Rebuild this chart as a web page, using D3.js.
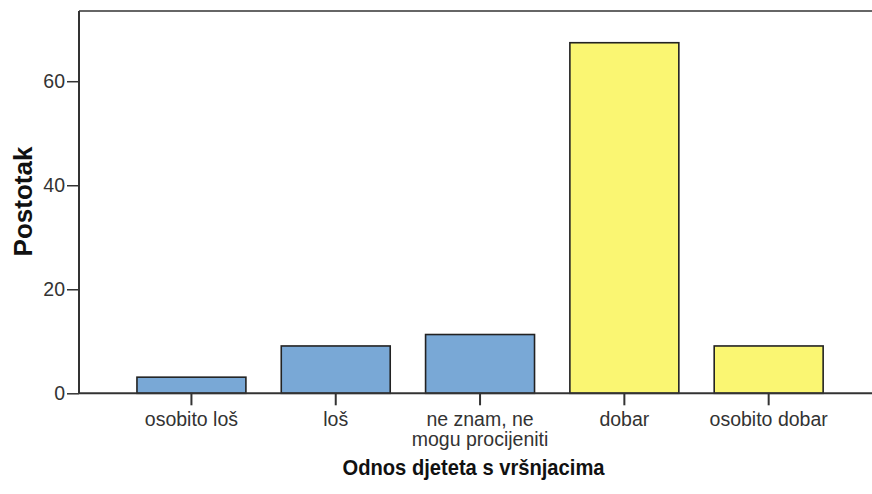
<!DOCTYPE html>
<html>
<head>
<meta charset="utf-8">
<script src="https://cdn.jsdelivr.net/npm/d3@7"></script>
<style>
  body { margin: 0; background: #fff; }
  svg { display: block; font-family: "Liberation Sans", Arial, sans-serif; }
</style>
</head>
<body>
<div id="chart"></div>
<script>
// values (percent)
const categories = ["osobito loš", "loš", "ne znam, ne mogu procijeniti", "dobar", "osobito dobar"];
const labelLines = [["osobito loš"], ["loš"], ["ne znam, ne", "mogu procijeniti"], ["dobar"], ["osobito dobar"]];
const values = [3.1, 9.1, 11.3, 67.4, 9.1];
const colorGroup = ["neg", "neg", "neg", "pos", "pos"];
const yTicks = [0, 20, 40, 60];

const width = 872, height = 494;
const plotLeft = 79, plotTop = 11, plotBottom = 393.3, plotRight = 872;
const fontFam = "Liberation Sans, Arial, sans-serif";

const svg = d3.select("#chart").append("svg")
    .attr("width", width)
    .attr("height", height);

const x = d3.scaleBand()
    .domain(categories)
    .range([101.6, 858.5])
    .paddingInner(0.245)
    .paddingOuter(0.245);

const y = d3.scaleLinear()
    .domain([0, 73.5])
    .range([plotBottom, plotTop]);

const color = d3.scaleOrdinal()
    .domain(["neg", "pos"])
    .range(["#79a8d6", "#faf672"]);

// frame: top line
svg.append("line")
    .attr("x1", plotLeft).attr("x2", plotRight)
    .attr("y1", plotTop).attr("y2", plotTop)
    .attr("stroke", "#666").attr("stroke-width", 2);

// bars
svg.append("g")
    .selectAll("rect")
    .data(categories)
    .enter().append("rect")
    .attr("x", d => x(d))
    .attr("width", x.bandwidth())
    .attr("y", (d, i) => y(values[i]))
    .attr("height", (d, i) => y(0) - y(values[i]))
    .attr("fill", (d, i) => color(colorGroup[i]))
    .attr("stroke", "#222")
    .attr("stroke-width", 1.6);

// y axis
const yAxis = svg.append("g")
    .attr("transform", `translate(${plotLeft},0)`)
    .call(d3.axisLeft(y).tickValues(yTicks).tickSize(12).tickSizeOuter(0).tickPadding(2));
yAxis.select(".domain").attr("stroke", "#333").attr("stroke-width", 2)
    .attr("d", `M0,${plotTop}V${plotBottom}`);
yAxis.selectAll(".tick line").attr("stroke", "#333").attr("stroke-width", 1.5);
yAxis.selectAll(".tick text").attr("font-size", 19.5).attr("fill", "#333")
    .attr("font-family", fontFam);

// x axis
const xAxis = svg.append("g")
    .attr("transform", `translate(0,${plotBottom})`)
    .call(d3.axisBottom(x).tickSize(12).tickSizeOuter(0).tickFormat(""));
xAxis.select(".domain").attr("stroke", "#333").attr("stroke-width", 2)
    .attr("d", `M${plotLeft},0H${plotRight}`);
xAxis.selectAll(".tick line").attr("stroke", "#333").attr("stroke-width", 2);

xAxis.selectAll(".tick").each(function(d, i) {
    const t = d3.select(this).append("text")
        .attr("fill", "#333")
        .attr("font-size", 19.5)
        .attr("font-family", fontFam)
        .attr("text-anchor", "middle");
    labelLines[i].forEach((line, k) => {
        t.append("tspan").attr("x", 0).attr("y", 33 + k * 20).text(line);
    });
});

// axis titles
svg.append("text")
    .attr("transform", `translate(32,201.5) rotate(-90)`)
    .attr("text-anchor", "middle")
    .attr("font-size", 26)
    .attr("font-weight", "bold")
    .attr("font-family", fontFam)
    .attr("fill", "#111")
    .text("Postotak");

svg.append("text")
    .attr("x", 473.5)
    .attr("y", 475)
    .attr("text-anchor", "middle")
    .attr("font-size", 22)
    .attr("font-weight", "bold")
    .attr("font-family", fontFam)
    .attr("fill", "#111")
    .attr("textLength", 262)
    .attr("lengthAdjust", "spacingAndGlyphs")
    .text("Odnos djeteta s vršnjacima");
</script>
</body>
</html>
